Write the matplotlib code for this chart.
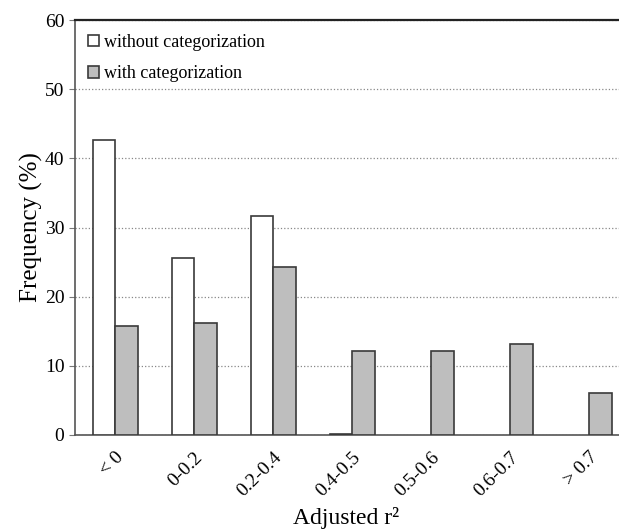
import numpy as np
import matplotlib
matplotlib.use('Agg')
from matplotlib import pyplot as plt

categories = ['< 0', '0-0.2', '0.2-0.4', '0.4-0.5', '0.5-0.6', '0.6-0.7', '> 0.7']
without_cat = [42.6, 25.6, 31.6, 0.1, 0, 0, 0]
with_cat = [15.8, 16.2, 24.3, 12.1, 12.2, 13.1, 6.1]

plt.rcParams['font.family'] = ['Liberation Serif', 'DejaVu Serif']

fig = plt.figure(figsize=(6.19, 5.31), dpi=100)
ax = fig.add_axes([0.121, 0.181, 0.895, 0.781])

x = np.arange(len(categories))
w = 0.285
bars = ax.bar(x - w / 2, without_cat, w, color='white', edgecolor='#3a3a3a', linewidth=1.2,
              label='without categorization', zorder=3)
# empty bins show no outline
for b, v in zip(bars, without_cat):
    if v == 0:
        b.set_linewidth(0)
ax.bar(x + w / 2, with_cat, w, color='#bebebe', edgecolor='#3a3a3a', linewidth=1.2,
       label='with categorization', zorder=3)

ax.set_ylim(0, 60)
ax.set_xlim(-0.51, 6.5)
ax.set_yticks(range(0, 61, 10))
ax.yaxis.grid(True, linestyle=':', color='#888888', linewidth=0.9, zorder=0)
ax.set_axisbelow(True)
ax.set_xticks(x)
ax.set_xticklabels(categories, rotation=45, ha='right', rotation_mode='anchor')
ax.tick_params(axis='x', length=0, pad=10, labelsize=14)
ax.tick_params(axis='y', length=4, color='#777777', labelsize=14)

ax.spines['right'].set_visible(False)
ax.spines['top'].set_color('#222222')
ax.spines['top'].set_linewidth(1.6)
ax.spines['left'].set_color('#555555')
ax.spines['bottom'].set_color('#555555')
ax.spines['left'].set_linewidth(1.2)
ax.spines['bottom'].set_linewidth(1.2)

ax.set_ylabel('Frequency (%)', fontsize=18, va='center')
ax.yaxis.set_label_coords(-0.078, 0.5)
ax.set_xlabel('Adjusted r²', fontsize=17, va='center')
ax.xaxis.set_label_coords(0.49, -0.2)

ax.legend(loc='upper left', frameon=False, fontsize=13, handlelength=0.6, handleheight=0.6,
          handletextpad=0.25, labelspacing=0.8, borderaxespad=0.35)

fig.savefig('out.png', dpi=100)
